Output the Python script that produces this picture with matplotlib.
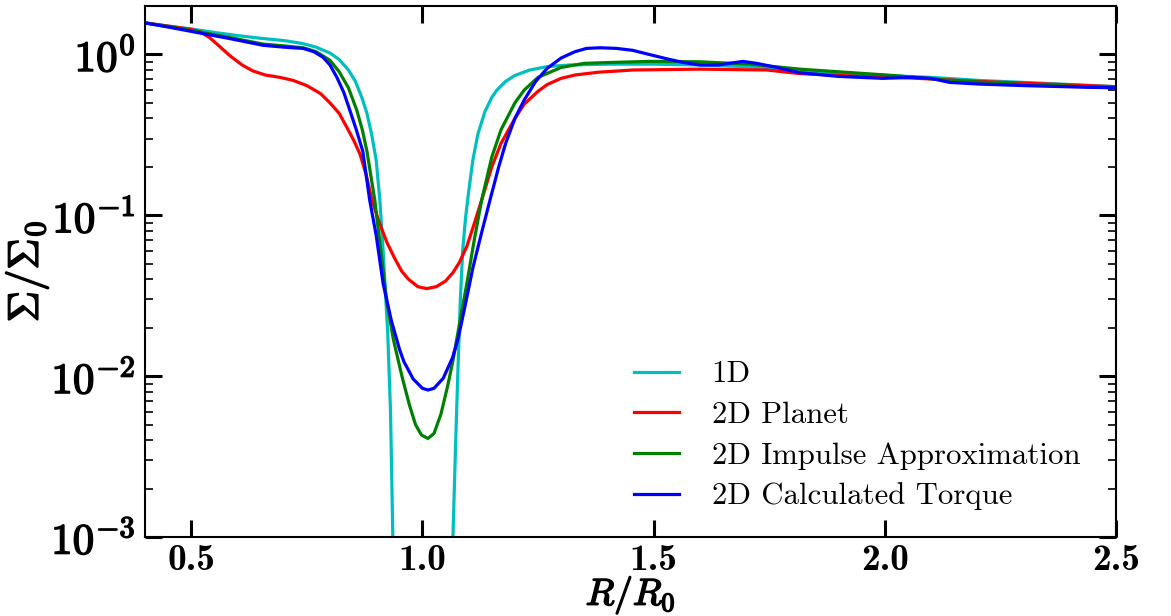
import matplotlib
matplotlib.use("Agg")
import matplotlib.pyplot as plt
import matplotlib.patheffects as pe
from matplotlib.ticker import FixedLocator, FixedFormatter, LogLocator, NullLocator, NullFormatter

plt.rcParams['mathtext.fontset'] = 'cm'

# ---- data ----
x_1d = [0.40, 0.45, 0.50, 0.55, 0.60, 0.65, 0.70, 0.74, 0.77, 0.80, 0.82, 0.84, 0.855, 0.87,
        0.88, 0.89, 0.90, 0.908, 0.915, 0.92, 0.925, 0.931, 0.936, 0.945, 0.96, 1.00, 1.04,
        1.055, 1.066, 1.072, 1.077, 1.082, 1.087, 1.093, 1.10, 1.109, 1.12, 1.135, 1.15, 1.161,
        1.18, 1.20, 1.232, 1.27, 1.32, 1.40, 1.50, 1.60, 1.70, 1.80, 1.90, 2.00, 2.10, 2.20,
        2.30, 2.40, 2.50]
y_1d = [1.57, 1.50, 1.44, 1.37, 1.31, 1.26, 1.22, 1.17, 1.11, 1.02, 0.93, 0.80, 0.68, 0.53,
        0.43, 0.32, 0.22, 0.124, 0.060, 0.033, 0.0185, 0.006, 0.001, 0.0002, 1e-4, 5e-5, 1e-4,
        0.0002, 0.001, 0.004, 0.0114, 0.03, 0.06, 0.095, 0.14, 0.22, 0.32, 0.44, 0.54, 0.60,
        0.68, 0.74, 0.80, 0.84, 0.86, 0.87, 0.87, 0.86, 0.84, 0.80, 0.77, 0.74, 0.72, 0.69,
        0.67, 0.65, 0.63]

x_planet = [0.40, 0.45, 0.50, 0.52, 0.54, 0.56, 0.584, 0.61, 0.633, 0.66, 0.692, 0.72, 0.75,
            0.78, 0.80, 0.82, 0.837, 0.852, 0.865, 0.878, 0.891, 0.905, 0.923, 0.94, 0.955,
            0.97, 0.99, 1.009, 1.03, 1.05, 1.066, 1.08, 1.096, 1.11, 1.128, 1.15, 1.17, 1.20,
            1.22, 1.25, 1.27, 1.30, 1.33, 1.38, 1.455, 1.60, 1.745, 1.816, 1.90, 2.03, 2.20,
            2.35, 2.50]
y_planet = [1.57, 1.50, 1.43, 1.38, 1.27, 1.13, 0.98, 0.86, 0.79, 0.745, 0.72, 0.69, 0.64,
            0.57, 0.50, 0.43, 0.35, 0.29, 0.24, 0.18, 0.124, 0.093, 0.068, 0.054, 0.045,
            0.040, 0.036, 0.035, 0.036, 0.039, 0.044, 0.051, 0.064, 0.085, 0.124, 0.20, 0.28,
            0.40, 0.49, 0.59, 0.65, 0.71, 0.745, 0.775, 0.80, 0.81, 0.80, 0.76, 0.74, 0.72,
            0.68, 0.655, 0.63]

x_impulse = [0.40, 0.45, 0.512, 0.58, 0.655, 0.70, 0.742, 0.77, 0.80, 0.82, 0.84, 0.858, 0.87,
             0.88, 0.897, 0.91, 0.923, 0.937, 0.951, 0.958, 0.972, 0.985, 0.998, 1.012, 1.025,
             1.04, 1.055, 1.066, 1.08, 1.096, 1.112, 1.128, 1.15, 1.17, 1.20, 1.22, 1.25, 1.30,
             1.35, 1.40, 1.49, 1.60, 1.708, 1.816, 1.90, 2.017, 2.14, 2.30, 2.50]
y_impulse = [1.57, 1.49, 1.39, 1.28, 1.16, 1.13, 1.10, 1.04, 0.92, 0.78, 0.62, 0.45, 0.34,
             0.25, 0.124, 0.060, 0.029, 0.017, 0.0114, 0.0094, 0.0066, 0.0050, 0.0043, 0.0041,
             0.0044, 0.0058, 0.0088, 0.0125, 0.021, 0.0376, 0.070, 0.124, 0.23, 0.34, 0.50,
             0.60, 0.72, 0.83, 0.88, 0.89, 0.905, 0.90, 0.87, 0.81, 0.78, 0.74, 0.69, 0.65, 0.62]

x_torque = [0.40, 0.45, 0.512, 0.58, 0.655, 0.70, 0.742, 0.765, 0.785, 0.80, 0.815, 0.83, 0.843,
            0.857, 0.871, 0.886, 0.90, 0.915, 0.933, 0.951, 0.96, 0.98, 1.00, 1.012, 1.025,
            1.045, 1.065, 1.077, 1.093, 1.109, 1.128, 1.146, 1.165, 1.18, 1.20, 1.22, 1.245,
            1.27, 1.30, 1.33, 1.355, 1.384, 1.42, 1.455, 1.49, 1.528, 1.565, 1.60, 1.64, 1.693,
            1.723, 1.766, 1.816, 1.90, 1.995, 2.06, 2.10, 2.14, 2.20, 2.30, 2.436, 2.50]
y_torque = [1.57, 1.48, 1.37, 1.26, 1.14, 1.11, 1.09, 1.04, 0.96, 0.86, 0.72, 0.58, 0.45,
            0.34, 0.25, 0.124, 0.075, 0.0376, 0.022, 0.0145, 0.0123, 0.0096, 0.0084, 0.0082,
            0.0084, 0.0097, 0.0130, 0.017, 0.028, 0.047, 0.078, 0.124, 0.20, 0.28, 0.40, 0.52,
            0.68, 0.82, 0.95, 1.04, 1.09, 1.10, 1.09, 1.06, 1.00, 0.94, 0.89, 0.86, 0.86, 0.905,
            0.88, 0.83, 0.77, 0.73, 0.71, 0.72, 0.71, 0.67, 0.655, 0.64, 0.625, 0.62]

labels = ['1D', '2D Planet', '2D Impulse Approximation', '2D Calculated Torque']
colors = ['c', 'r', 'g', 'b']

xticks = [0.5, 1.0, 1.5, 2.0, 2.5]
xticklabels = ['0.5', '1.0', '1.5', '2.0', '2.5']
yticks = [1e-3, 1e-2, 1e-1, 1e0]
yticklabels = [r'$10^{-3}$', r'$10^{-2}$', r'$10^{-1}$', r'$10^{0}$']

# ---- figure ----
W, H = 1171, 616
fig = plt.figure(figsize=(W / 100, H / 100), dpi=100)
ax = fig.add_axes([145 / W, 1 - 537 / H, (1116 - 145) / W, (537 - 6) / H])

series = [(x_1d, y_1d), (x_planet, y_planet), (x_impulse, y_impulse), (x_torque, y_torque)]
for (xs, ys), lab, col in zip(series, labels, colors):
    ax.plot(xs, ys, color=col, lw=2.3, label=lab, solid_joinstyle='round')

ax.set_yscale('log')
ax.set_xlim(0.4, 2.5)
ax.set_ylim(1e-3, 2.0)

ax.xaxis.set_major_locator(FixedLocator(xticks))
ax.xaxis.set_major_formatter(FixedFormatter(xticklabels))
ax.xaxis.set_minor_locator(NullLocator())
ax.yaxis.set_major_locator(FixedLocator(yticks))
ax.yaxis.set_major_formatter(FixedFormatter(yticklabels))
ax.yaxis.set_minor_locator(LogLocator(base=10, subs=range(2, 10)))
ax.yaxis.set_minor_formatter(NullFormatter())

ax.tick_params(which='major', direction='in', length=12, width=2.2, top=True, right=True, pad=8)
ax.tick_params(axis='x', which='major', labelsize=27, pad=5)
ax.tick_params(axis='y', which='major', labelsize=31, pad=7)
ax.tick_params(which='minor', direction='in', length=6, width=1.2, top=True, right=True)

bold = [pe.withStroke(linewidth=1.1, foreground='black')]
for lab in ax.get_xticklabels():
    lab.set_fontfamily('cmb10')
for lab in ax.get_yticklabels():
    lab.set_path_effects(bold)
for sp in ax.spines.values():
    sp.set_linewidth(1.5)

ax.set_xlabel(r'$R/R_0$', fontsize=27, va='top')
ax.xaxis.set_label_coords(0.5, -0.069)
ax.xaxis.label.set_path_effects(bold)
ax.set_ylabel(r'$\Sigma/\Sigma_0$', fontsize=31)
ax.yaxis.set_label_coords(-0.097, 0.5)
ax.yaxis.label.set_path_effects(bold)

leg = ax.legend(loc='lower right', frameon=False, prop={'family': 'cmr10', 'size': 22.2},
                handlelength=1.45, handletextpad=1.05, labelspacing=0.42,
                borderpad=0.0, borderaxespad=0.0,
                bbox_to_anchor=(0.963, 0.05))

fig.savefig('out.png', dpi=100)
